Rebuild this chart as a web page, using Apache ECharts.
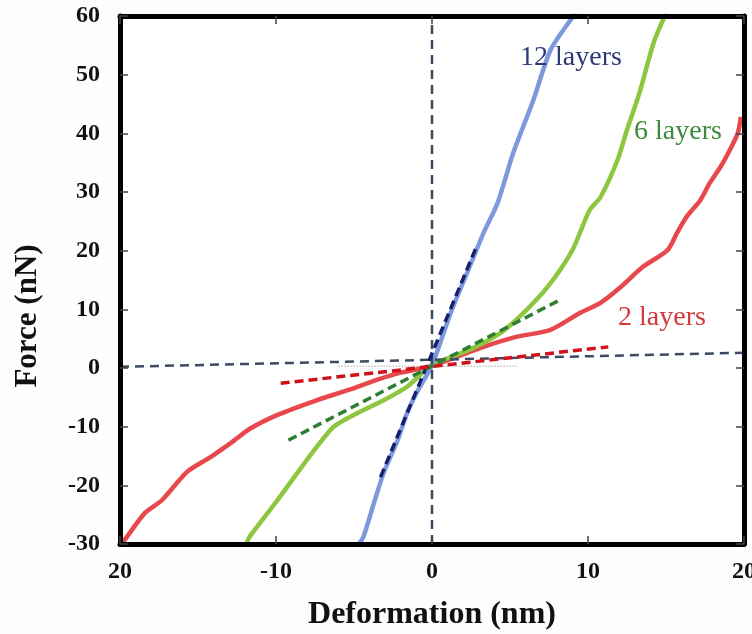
<!DOCTYPE html>
<html>
<head>
<meta charset="utf-8">
<script src="https://cdn.jsdelivr.net/npm/echarts@6/dist/echarts.min.js"></script>
<style>
	html, body { margin: 0; padding: 0; background: #fdfdfd; }
	#chart { width: 752px; height: 634px; }
</style>
</head>
<body>
<div id="chart"></div>
<script>
// tick labels as printed on the figure (left end reads "20")
const xTickLabels = ["20", "-10", "0", "10", "20"];

// 2 layers
const layers2X = [-19.9, -19.7, -18.4, -17.3, -15.7, -14.2, -12.8, -11.7, -9.9, -7.4, -5.3, -3.5, -2, 0, 3.3, 5.4, 7.6, 9.5, 10.8, 12.1, 13.5, 15.1, 15.7, 16.3, 17.2, 17.8, 18.5, 19.1, 19.6, 19.8];
const layers2Y = [-30, -29.3, -24.7, -22.5, -17.7, -15.2, -12.6, -10.4, -8, -5.5, -3.7, -2, -0.8, 0.4, 3.6, 5.3, 6.5, 9.4, 11.1, 13.8, 17.2, 20.1, 23, 25.7, 28.6, 31.5, 34.3, 37.2, 40, 42.8];

// 6 layers
const layers6X = [-11.9, -11.7, -9.9, -8.5, -7.4, -6.3, -4.8, -3.1, -1.6, 0, 2.4, 4.4, 5.6, 7.4, 9, 10.1, 10.8, 11.9, 12.5, 13.3, 14.2, 14.8, 15];
const layers6Y = [-30, -28.8, -22.5, -17.4, -13.5, -10, -7.7, -5.5, -3.2, 0.5, 3.1, 6, 8.7, 13.8, 20.1, 26.9, 29.1, 35.5, 40.6, 46.9, 55.4, 59.3, 60.5];

// 12 layers
const layers12X = [-4.7, -4.4, -3.8, -3.1, -2.2, -1.6, -1, 0, 1.2, 2.4, 3.3, 4.2, 5.2, 6.5, 7.6, 9, 9.3];
const layers12Y = [-30, -28.8, -23.7, -17.9, -12.3, -7.7, -4.3, 0.5, 9.4, 17.2, 23, 28.1, 36.6, 45.7, 54.2, 59.8, 61];

// linear fits (dashed)
const fit12 = [[-3.3, -18.6], [2.9, 21]];
const fit6 = [[-9.2, -12.3], [8.2, 11.6]];
const fit2 = [[-9.7, -2.6], [11.3, 3.6]];

// reference lines
const zeroVertical = [[0, -30], [0, 60]];
const zeroHorizontal = [[-20, 0.2], [20, 2.6]];
const faintBaseline = [[-6, 0.3], [5.5, 0.3]];

function zip(xs, ys) {
	return xs.map((x, i) => [x, ys[i]]);
}

const serif = "Liberation Serif";
const borderLine = { show: true, onZero: false, lineStyle: { color: "#000", width: 5 } };
const innerTick = { show: true, inside: true, length: 8, lineStyle: { color: "#444", width: 1.5 } };

function dashed(name, data, color, width, dash) {
	return {
		name: name,
		type: "line",
		data: data,
		symbol: "none",
		silent: true,
		z: 4,
		lineStyle: { color: color, width: width, type: dash },
	};
}

function curve(name, data, color) {
	return {
		name: name,
		type: "line",
		data: data,
		symbol: "none",
		smooth: 0.25,
		z: 3,
		lineStyle: { color: color, width: 4.5, join: "round" },
	};
}

const chart = echarts.init(document.getElementById("chart"));
const option = {
	animation: false,
	backgroundColor: "#fdfdfd",
	grid: {
		left: 120,
		right: 8,
		top: 16,
		bottom: 90,
		outerBoundsMode: "none",
		containLabel: false,
		show: true,
		backgroundColor: "#ffffff",
		borderWidth: 0,
	},
	xAxis: [
		{
			type: "value",
			min: -20,
			max: 20,
			interval: 10,
			z: 6,
			axisLine: borderLine,
			axisTick: innerTick,
			splitLine: { show: false },
			axisLabel: {
				margin: 16,
				fontFamily: serif,
				fontWeight: "bold",
				fontSize: 24,
				color: "#111",
				formatter: (v) => xTickLabels[Math.round((v + 20) / 10)],
			},
			name: "Deformation (nm)",
			nameLocation: "middle",
			nameGap: 55,
			nameTextStyle: { fontFamily: serif, fontWeight: "bold", fontSize: 32, color: "#111" },
		},
		{
			type: "value",
			position: "top",
			min: -20,
			max: 20,
			interval: 10,
			z: 6,
			axisLine: borderLine,
			axisTick: innerTick,
			axisLabel: { show: false },
			splitLine: { show: false },
		},
	],
	yAxis: [
		{
			type: "value",
			min: -30,
			max: 60,
			interval: 10,
			z: 6,
			axisLine: borderLine,
			axisTick: innerTick,
			splitLine: { show: false },
			axisLabel: {
				margin: 20,
				fontFamily: serif,
				fontWeight: "bold",
				fontSize: 24,
				color: "#111",
			},
		},
		{
			type: "value",
			position: "right",
			min: -30,
			max: 60,
			interval: 10,
			z: 6,
			axisLine: borderLine,
			axisTick: innerTick,
			axisLabel: { show: false },
			splitLine: { show: false },
		},
	],
	graphic: [
		{
			type: "text",
			x: 28,
			y: 316,
			rotation: Math.PI / 2,
			style: {
				text: "Force (nN)",
				fontFamily: serif,
				fontWeight: "bold",
				fontSize: 31,
				fill: "#111",
				align: "center",
				verticalAlign: "middle",
			},
		},
		{
			type: "text",
			x: 571,
			y: 58,
			z: 10,
			style: { text: "12 layers", fontFamily: serif, fontSize: 28, fill: "#2e3a78", align: "center", verticalAlign: "middle" },
		},
		{
			type: "text",
			x: 678,
			y: 132,
			z: 10,
			style: { text: "6 layers", fontFamily: serif, fontSize: 28, fill: "#3c8a3c", align: "center", verticalAlign: "middle" },
		},
		{
			type: "text",
			x: 662,
			y: 318,
			z: 10,
			style: { text: "2 layers", fontFamily: serif, fontSize: 28, fill: "#d03b3b", align: "center", verticalAlign: "middle" },
		},
	],
	series: [
		dashed("baseline", faintBaseline, "#c4c4c4", 1.5, "dotted"),
		curve("2 layers", zip(layers2X, layers2Y), "#e8474b"),
		curve("6 layers", zip(layers6X, layers6Y), "#8dc63f"),
		curve("12 layers", zip(layers12X, layers12Y), "#7d98dc"),
		dashed("x = 0", zeroVertical, "#3e4a62", 2.5, [9, 6]),
		dashed("y = 0", zeroHorizontal, "#3e4a62", 2.5, [9, 6]),
		dashed("fit 12", fit12, "#151f6e", 3.5, [9, 5]),
		dashed("fit 6", fit6, "#2e7d32", 3.5, [9, 5]),
		dashed("fit 2", fit2, "#d0101a", 3.5, [9, 5]),
	],
};
chart.setOption(option);
</script>
</body>
</html>
